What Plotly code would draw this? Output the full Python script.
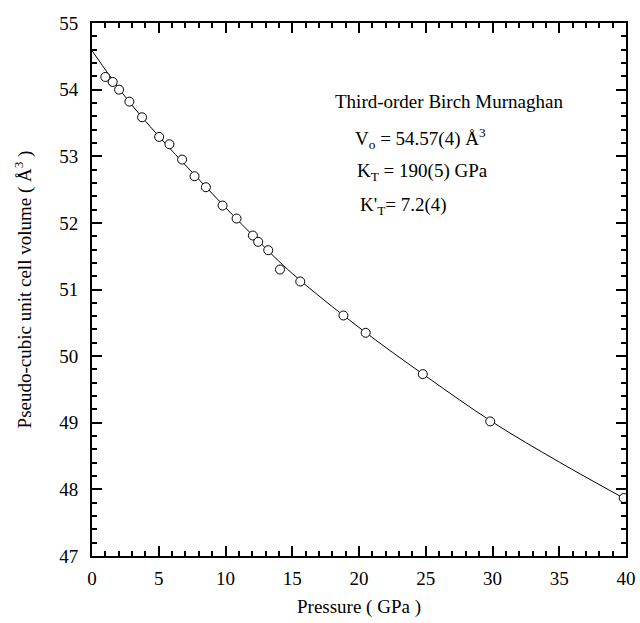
import plotly.graph_objects as go

# measured data (pressure in GPa, volume in Å^3)
pressure = [1.0, 1.55, 2.03, 2.8, 3.75, 5.03, 5.8, 6.75, 7.68, 8.53, 9.78, 10.83,
            12.05, 12.45, 13.2, 14.08, 15.6, 18.83, 20.5, 24.78, 29.83, 39.83]
volume = [54.19, 54.115, 54.0, 53.82, 53.585, 53.29, 53.18, 52.95, 52.70, 52.535,
          52.26, 52.065, 51.81, 51.715, 51.59, 51.30, 51.12, 50.61, 50.35, 49.73,
          49.02, 47.87]

# fitted Birch-Murnaghan curve
fit_pressure = [0, 2.5, 5, 7.5, 10, 12.5, 15, 20, 25, 30, 35, 40]
fit_volume = [54.585, 53.89, 53.30, 52.76, 52.23, 51.72, 51.24, 50.43, 49.70,
              49.01, 48.41, 47.85]

x_ticks = [0, 5, 10, 15, 20, 25, 30, 35, 40]
y_ticks = [47, 48, 49, 50, 51, 52, 53, 54, 55]

FONT = "Liberation Serif, Times New Roman, Times, serif"

fig = go.Figure()
fig.add_trace(go.Scatter(x=fit_pressure, y=fit_volume, mode="lines",
                         line=dict(color="black", width=1, shape="spline"),
                         showlegend=False, hoverinfo="skip"))
fig.add_trace(go.Scatter(x=pressure, y=volume, mode="markers",
                         marker=dict(symbol="circle", size=9, color="white",
                                     line=dict(color="black", width=1)),
                         showlegend=False))

axis_common = dict(showgrid=False, zeroline=False, showline=True, linecolor="black",
                   linewidth=2, mirror="allticks", ticks="inside", ticklen=10,
                   tickwidth=2, tickcolor="black", automargin=False,
                   tickfont=dict(family=FONT, size=19, color="black"))

fig.update_xaxes(range=[0, 40], tickvals=x_ticks, ticklabelstandoff=4,
                 minor=dict(tick0=0, dtick=1, ticks="inside", ticklen=5,
                            tickwidth=2, tickcolor="black", showgrid=False),
                 title=dict(text="Pressure ( GPa )", standoff=12,
                            font=dict(family=FONT, size=19, color="black")),
                 **axis_common)
fig.update_yaxes(range=[47, 55], tickvals=y_ticks, ticklabelstandoff=8,
                 minor=dict(tick0=47, dtick=0.2, ticks="inside", ticklen=5,
                            tickwidth=2, tickcolor="black", showgrid=False),
                 title=dict(text="Pseudo-cubic unit cell volume ( Å<sup>3</sup> )",
                            standoff=23,
                            font=dict(family=FONT, size=19, color="black")),
                 **axis_common)

ann_font = dict(family=FONT, size=19, color="black")
texts = [
    ("Third-order Birch Murnaghan", 333, 101),
    ("V<sub>o</sub> = 54.57(4) Å<sup>3</sup>", 353, 138),
    ("K<sub>T</sub> = 190(5) GPa", 355, 172),
    ("K'<sub>T</sub>= 7.2(4)", 358, 206),
]
for t, px, py in texts:
    fig.add_annotation(text=t, xref="paper", yref="paper",
                       x=(px - 92) / 534, y=1 - (py - 23) / 533,
                       xanchor="left", yanchor="middle", showarrow=False,
                       font=ann_font)

fig.update_layout(width=640, height=623,
                  margin=dict(l=92, r=14, t=23, b=67),
                  plot_bgcolor="white", paper_bgcolor="white",
                  font=dict(family=FONT, color="black"))

fig.write_html("out.html", config={"displayModeBar": False},
               post_script="document.body.style.margin='0px';"
                           "document.body.style.overflow='hidden';")
